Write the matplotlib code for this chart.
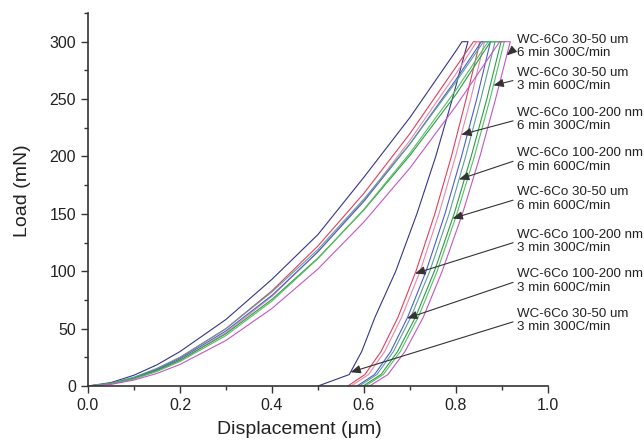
import numpy as np
import matplotlib.pyplot as plt
from matplotlib.ticker import MultipleLocator

plt.rcParams['font.family'] = ['Liberation Sans', 'DejaVu Sans']

# loading branch: common displacement grid (um), load (mN) per sample
load_h = [0, 0.05, 0.1, 0.15, 0.2, 0.3, 0.4, 0.5, 0.6, 0.7, 0.8]
# unloading branch: common load levels (mN), displacement per sample
unload_p = [300, 250, 200, 150, 100, 60, 30, 10, 0]
peak_load = 300

samples = ["30-50 um 3 min 300", "100-200 nm 3 min 300", "100-200 nm 6 min 300",
           "100-200 nm 3 min 600", "100-200 nm 6 min 600", "30-50 um 6 min 600",
           "30-50 um 3 min 600", "30-50 um 6 min 300"]

load_p = [
    [0, 3.0, 9.4, 18.5, 30.0, 58.0, 93.0, 132.0, 182.0, 234.0, 292.0],
    [0, 2.2, 7.3, 14.9, 24.6, 50.0, 83.0, 122.0, 168.0, 220.0, 278.0],
    [0, 1.8, 6.4, 13.3, 22.4, 46.5, 78.0, 117.0, 162.0, 214.0, 272.0],
    [0, 2.1, 7.0, 14.3, 23.6, 48.0, 79.0, 117.0, 161.0, 211.0, 267.0],
    [0, 2.4, 7.7, 15.4, 25.1, 50.0, 82.0, 119.0, 163.0, 211.0, 265.0],
    [0, 2.0, 6.7, 13.6, 22.4, 45.6, 75.5, 111.5, 153.5, 201.0, 254.0],
    [0, 1.8, 6.1, 12.7, 21.3, 44.0, 74.0, 111.0, 154.0, 203.0, 258.0],
    [0, 1.4, 5.2, 11.0, 18.8, 39.7, 67.6, 102.0, 143.0, 190.0, 244.0],
]
# displacement where the peak load is reached (end of loading)
peak_h = [0.813, 0.838, 0.845, 0.855, 0.860, 0.875, 0.870, 0.895]

unload_h = [
    [0.826, 0.792, 0.756, 0.715, 0.669, 0.624, 0.595, 0.568, 0.500],
    [0.852, 0.822, 0.790, 0.754, 0.713, 0.674, 0.637, 0.602, 0.565],
    [0.862, 0.832, 0.799, 0.763, 0.722, 0.682, 0.645, 0.610, 0.572],
    [0.875, 0.845, 0.812, 0.776, 0.735, 0.695, 0.658, 0.623, 0.585],
    [0.885, 0.854, 0.821, 0.785, 0.743, 0.702, 0.664, 0.628, 0.590],
    [0.898, 0.867, 0.833, 0.796, 0.753, 0.712, 0.673, 0.637, 0.598],
    [0.905, 0.874, 0.840, 0.802, 0.759, 0.718, 0.679, 0.642, 0.603],
    [0.918, 0.886, 0.852, 0.814, 0.770, 0.729, 0.689, 0.652, 0.612],
]

colors = ['#35358a', '#e0405a', '#e889a8', '#4a5fd0',
          '#5e9f9a', '#2e9b48', '#55c060', '#c455c8']

# annotation texts, top to bottom, and which curve / load each arrow points at
labels = ["WC-6Co 30-50 um\n6 min 300C/min", "WC-6Co 30-50 um\n3 min 600C/min",
          "WC-6Co 100-200 nm\n6 min 300C/min", "WC-6Co 100-200 nm\n6 min 600C/min",
          "WC-6Co 30-50 um\n6 min 600C/min", "WC-6Co 100-200 nm\n3 min 300C/min",
          "WC-6Co 100-200 nm\n3 min 600C/min", "WC-6Co 30-50 um\n3 min 300C/min"]
label_curve = [7, 6, 2, 4, 5, 1, 3, 0]
tip_load = [288, 262, 219, 180, 146, 98, 59, 12]
label_y = [296, 267, 232, 197, 163, 126, 91.5, 57]

fig = plt.figure(figsize=(6.44, 4.44), dpi=100)
ax = fig.add_axes([0.1366, 0.1306, 0.7143, 0.8401])

for i in range(len(samples)):
    h = load_h + [peak_h[i]] + unload_h[i]
    p = load_p[i] + [peak_load] + unload_p
    ax.plot(h, p, color=colors[i], lw=0.8)

for txt, c, tl, ty in zip(labels, label_curve, tip_load, label_y):
    tip_h = np.interp(tl, unload_p[::-1], unload_h[c][::-1])
    ax.annotate(txt, xy=(tip_h, tl), xytext=(0.933, ty), ha='left', va='center',
                fontsize=9.6, color='#222222', linespacing=1.15, annotation_clip=False,
                arrowprops=dict(arrowstyle='-|>,head_length=0.6,head_width=0.25',
                                color='#333333', lw=0.8, mutation_scale=10,
                                relpos=(0, 0.5), shrinkA=1, shrinkB=0))

ax.set_xlim(0, 1.0)
ax.set_ylim(0, 325)
ax.xaxis.set_minor_locator(MultipleLocator(0.1))
ax.yaxis.set_major_locator(MultipleLocator(50))
ax.yaxis.set_minor_locator(MultipleLocator(25))
ax.set_xticks(np.arange(0, 1.01, 0.2))
ax.set_xticklabels(["0.0", "0.2", "0.4", "0.6", "0.8", "1.0"])

for s in ['top', 'right']:
    ax.spines[s].set_visible(False)
for s in ['left', 'bottom']:
    ax.spines[s].set_color('#333333')
    ax.spines[s].set_linewidth(1.2)
ax.tick_params(which='major', direction='out', length=5, width=1, colors='#333333',
               labelsize=11.5, labelcolor='#222222')
ax.tick_params(which='minor', direction='out', length=3, width=1, colors='#333333')

ax.set_xlabel("Displacement (\u03bcm)", fontsize=14, color='#222222')
ax.set_ylabel("Load (mN)", fontsize=14, color='#222222')
ax.xaxis.set_label_coords(0.46, -0.095)
ax.yaxis.set_label_coords(-0.123, 0.523)

fig.savefig("out.png", dpi=100)
